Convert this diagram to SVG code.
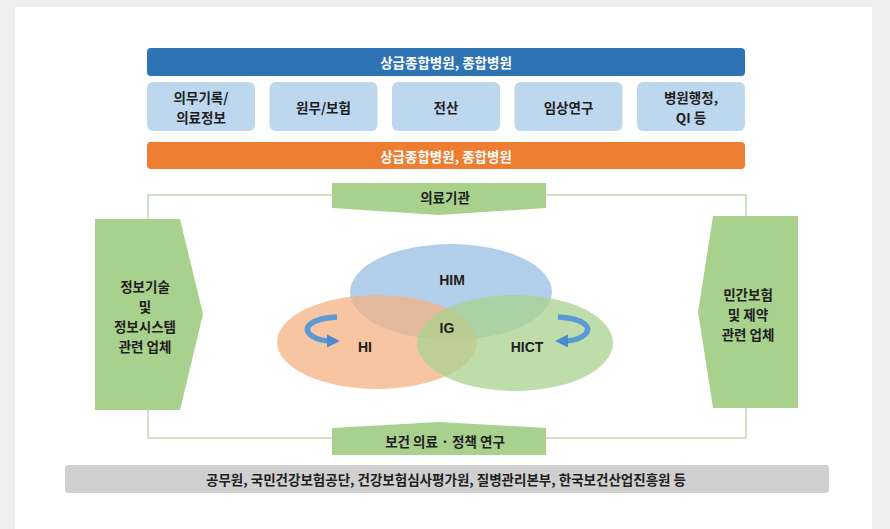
<svg xmlns="http://www.w3.org/2000/svg" width="890" height="529" viewBox="0 0 890 529">
<style>
  text { font-family: "Noto Sans CJK KR", "Noto Sans", sans-serif; font-weight: bold; text-anchor: middle; dominant-baseline: central; }
  .w { fill: #ffffff; font-size: 13.5px; }
  .d { fill: #1e1e1e; font-size: 13.5px; }
  .e { fill: #1e1e1e; font-size: 14px; font-family: "Liberation Sans", "Noto Sans", sans-serif; }
  .box { fill: #bdd7ee; }
  .grn { fill: #a9d18e; }
  .frame { fill: none; stroke: #b5cf9e; stroke-width: 1.2; }
  .arc { fill: none; stroke: #5b9bd5; stroke-width: 5.5; stroke-linecap: butt; }
</style>
<defs>
  <marker id="ah" viewBox="0 0 10 10" refX="3" refY="5" markerWidth="2.4" markerHeight="2.4" orient="auto">
    <path d="M0,0 L10,5 L0,10 z" fill="#4a8bd0"/>
  </marker>
</defs>
<rect x="0" y="0" width="890" height="529" fill="#eeeeee"/>
<rect x="15" y="7" width="857" height="522" fill="#ffffff"/>

<g id="connectors">
  <rect class="frame" x="148" y="195" width="598" height="243"/>
</g>

<g id="top-bar">
  <rect x="147" y="48" width="598" height="28" rx="4" fill="#2e74b5"/>
  <text class="w" x="446" y="62">상급종합병원, 종합병원</text>
</g>
<g id="box1">
  <rect class="box" x="147" y="82" width="108" height="49" rx="6"/>
  <text class="d" x="201" y="96.5">의무기록/</text>
  <text class="d" x="201" y="116.5">의료정보</text>
</g>
<g id="box2">
  <rect class="box" x="269.5" y="82" width="108" height="49" rx="6"/>
  <text class="d" x="323.5" y="107">원무/보험</text>
</g>
<g id="box3">
  <rect class="box" x="392" y="82" width="108" height="49" rx="6"/>
  <text class="d" x="446" y="107">전산</text>
</g>
<g id="box4">
  <rect class="box" x="514.5" y="82" width="108" height="49" rx="6"/>
  <text class="d" x="568.5" y="107">임상연구</text>
</g>
<g id="box5">
  <rect class="box" x="637" y="82" width="108" height="49" rx="6"/>
  <text class="d" x="691" y="96.5">병원행정,</text>
  <text class="d" x="691" y="116.5">QI 등</text>
</g>
<g id="orange-bar">
  <rect x="147" y="142" width="598" height="27" rx="4" fill="#ed7d31"/>
  <text class="w" x="446" y="156">상급종합병원, 종합병원</text>
</g>

<g id="medical-institution">
  <polygon class="grn" points="332,183 546,183 546,208 439,215 332,208"/>
  <text class="d" x="445" y="197">의료기관</text>
</g>
<g id="research">
  <polygon class="grn" points="332,428 439,422 546,428 546,455 332,455"/>
  <text class="d" x="445" y="441">보건 의료 · 정책 연구</text>
</g>
<g id="it-companies">
  <polygon class="grn" points="95,219 180,219 203,314 180,410 95,410"/>
  <text class="d" x="145" y="286">정보기술</text>
  <text class="d" x="145" y="306">및</text>
  <text class="d" x="145" y="326">정보시스템</text>
  <text class="d" x="145" y="346">관련 업체</text>
</g>
<g id="insurance-companies">
  <polygon class="grn" points="798,216 713,216 698,312 713,408 798,408"/>
  <text class="d" x="748" y="294">민간보험</text>
  <text class="d" x="748" y="314">및 제약</text>
  <text class="d" x="748" y="334">관련 업체</text>
</g>

<g id="venn">
  <ellipse id="him" cx="451" cy="292" rx="101" ry="48" fill="#9dc3e6" fill-opacity="0.8"/>
  <ellipse id="hi" cx="377" cy="342" rx="100" ry="47" fill="#f4b183" fill-opacity="0.75"/>
  <ellipse id="hict" cx="515" cy="343" rx="98" ry="48" fill="#a9d18e" fill-opacity="0.75"/>
  <text class="e" x="452" y="280">HIM</text>
  <text class="e" x="447" y="328">IG</text>
  <text class="e" x="365" y="347">HI</text>
  <text class="e" x="527" y="347">HICT</text>
  <path class="arc" d="M337,317 C312,318 300,328 312,336 C318,340 324,341 331,341" marker-end="url(#ah)"/>
  <path class="arc" d="M558,317 C583,318 595,328 583,336 C577,340 571,341 564,341" marker-end="url(#ah)"/>
</g>

<g id="public-bodies">
  <rect x="65" y="465" width="764" height="28" rx="3" fill="#d0d0d0"/>
  <text class="d" x="446" y="479">공무원, 국민건강보험공단, 건강보험심사평가원, 질병관리본부, 한국보건산업진흥원 등</text>
</g>
</svg>
